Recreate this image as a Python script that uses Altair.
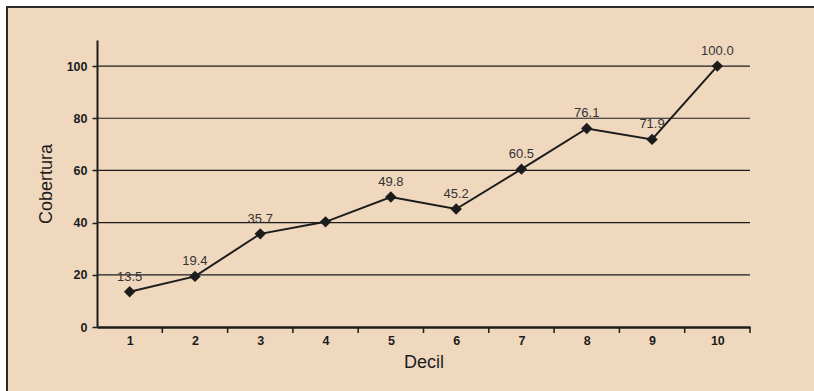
import altair as alt
import pandas as pd

decil = [1, 2, 3, 4, 5, 6, 7, 8, 9, 10]
cobertura = [13.5, 19.4, 35.7, 40.3, 49.8, 45.2, 60.5, 76.1, 71.9, 100.0]
etiquetas = ["13.5", "19.4", "35.7", "", "49.8", "45.2", "60.5", "76.1", "71.9", "100.0"]
y_ticks = [0, 20, 40, 60, 80, 100]
grid_vals = [20, 40, 60, 80, 100]
x_bounds = [1.5, 2.5, 3.5, 4.5, 5.5, 6.5, 7.5, 8.5, 9.5, 10.5]

W, H = 653, 287
PR = 814 - 97 - W
PB = 391 - 40 - H
BG = "#F0D8BF"
INK = "#1c1c1c"
BORDER = "#2e2a26"
FONT = "Liberation Sans"

df = pd.DataFrame({"Decil": decil, "Cobertura": cobertura, "Etiqueta": etiquetas})
gdf = pd.DataFrame({"g": grid_vals})
tdf = pd.DataFrame({"b": x_bounds})
one = pd.DataFrame({"a": [0]})

xscale = alt.Scale(domain=[0.5, 10.5], nice=False, zero=False)
yscale = alt.Scale(domain=[0, 110], nice=False)

background = alt.Chart(one).mark_rect(fill=BG, strokeWidth=0).encode(
    x=alt.value(-91), x2=alt.value(W + PR), y=alt.value(-34), y2=alt.value(H + PB)
)
border_left = alt.Chart(one).mark_rule(color=BORDER, strokeWidth=2).encode(
    x=alt.value(-90), y=alt.value(-34), y2=alt.value(H + PB)
)
border_top = alt.Chart(one).mark_rule(color=BORDER, strokeWidth=2).encode(
    y=alt.value(-33), x=alt.value(-91), x2=alt.value(W + PR)
)

grid = alt.Chart(gdf).mark_rule(color=INK, strokeWidth=1.2).encode(
    y=alt.Y("g:Q", scale=yscale),
    x=alt.value(0), x2=alt.value(W),
)

xticks = alt.Chart(tdf).mark_rule(color=INK, strokeWidth=1.5).encode(
    x=alt.X("b:Q", scale=xscale),
    y=alt.value(H), y2=alt.value(H + 6),
)

base = alt.Chart(df)

line = base.mark_line(color=INK, strokeWidth=2).encode(
    x=alt.X("Decil:Q", scale=xscale,
            axis=alt.Axis(title="Decil", values=decil, format="d", ticks=False, grid=False,
                          domainColor=INK, domainWidth=2.5, labelFont=FONT, labelFontSize=12.5,
                          labelFontWeight="bold", labelColor=INK, labelPadding=7,
                          titleFont=FONT, titleFontSize=18, titleFontWeight="normal",
                          titleColor=INK, titlePadding=7, zindex=1)),
    y=alt.Y("Cobertura:Q", scale=yscale,
            axis=alt.Axis(title="Cobertura", values=y_ticks, grid=False, tickSize=5,
                          tickColor=INK, tickWidth=1.5, domainColor=INK, domainWidth=2,
                          labelFont=FONT, labelFontSize=12.5, labelFontWeight="bold",
                          labelColor=INK, labelPadding=5, titleFont=FONT, titleFontSize=18,
                          titleFontWeight="normal", titleColor=INK, titlePadding=11, zindex=1)),
)

points = base.mark_point(shape="diamond", filled=True, size=130, color=INK, opacity=1).encode(
    x=alt.X("Decil:Q", scale=xscale),
    y=alt.Y("Cobertura:Q", scale=yscale),
)

labels = base.mark_text(font=FONT, fontSize=13, color="#333333", baseline="alphabetic",
                        align="center", dy=-11).encode(
    x=alt.X("Decil:Q", scale=xscale),
    y=alt.Y("Cobertura:Q", scale=yscale),
    text="Etiqueta:N",
)

chart = alt.layer(background, border_left, border_top, grid, xticks, line, points, labels).properties(
    width=W, height=H,
    autosize=alt.AutoSizeParams(type="none"),
    padding={"left": 97, "top": 40, "right": PR, "bottom": PB},
).configure(background="white").configure_view(stroke=None)

chart.save("out.html", embed_options={"renderer": "svg", "actions": False})
